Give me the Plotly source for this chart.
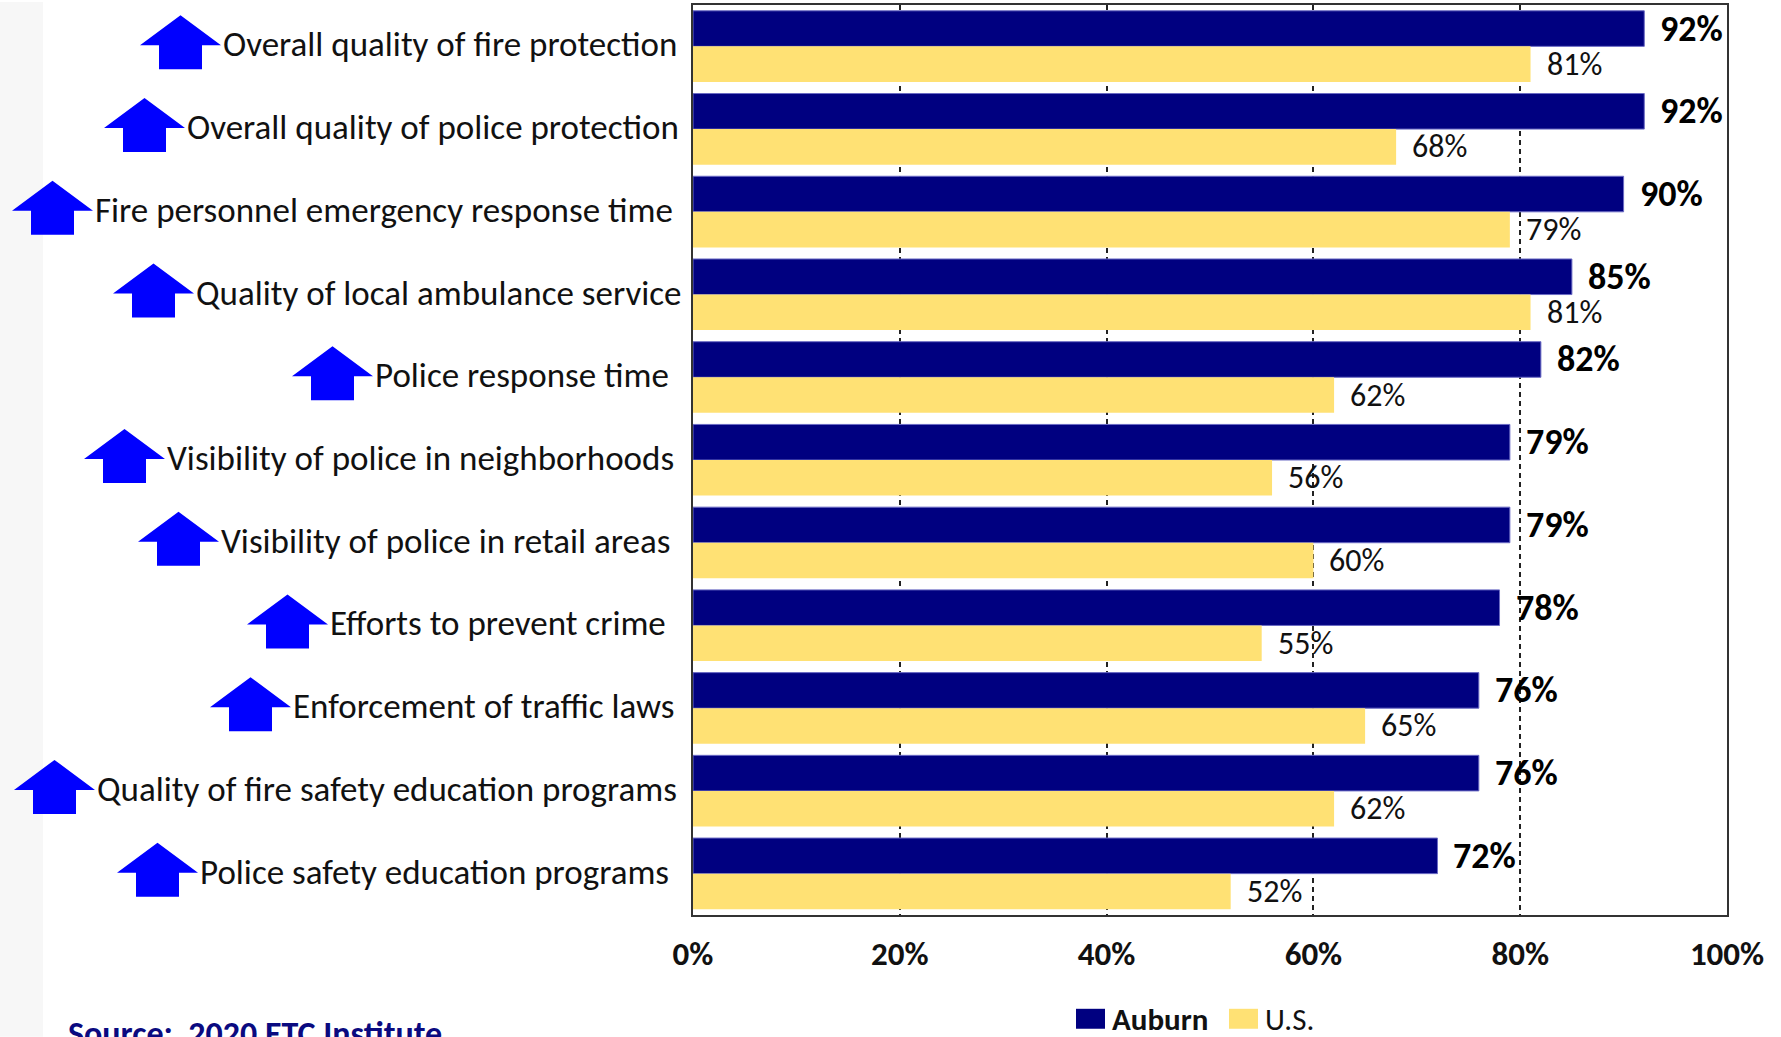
import plotly.graph_objects as go

# ---- data -------------------------------------------------------------
categories = [
    "Overall quality of fire protection",
    "Overall quality of police protection",
    "Fire personnel emergency response time",
    "Quality of local ambulance service",
    "Police response time",
    "Visibility of police in neighborhoods",
    "Visibility of police in retail areas",
    "Efforts to prevent crime",
    "Enforcement of traffic laws",
    "Quality of fire safety education programs",
    "Police safety education programs",
]
auburn = [92, 92, 90, 85, 82, 79, 79, 78, 76, 76, 72]
us = [81, 68, 79, 81, 62, 56, 60, 55, 65, 62, 52]
tick_values = [0, 20, 40, 60, 80, 100]
tick_labels = ["0%", "20%", "40%", "60%", "80%", "100%"]
series_names = ["Auburn", "U.S."]
source_note = "Source:  2020 ETC Institute"

# ---- layout constants --------------------------------------------------
W, H = 1781, 1037
ML, MR, MT, MB = 693, 54, 3, 122
PW, PH = W - ML - MR, H - MT - MB
NAVY = "#000080"
YELLOW = "#FFE174"
ARROW = "#0000FF"
FONT = "Carlito, Lato, 'Open Sans', sans-serif"
BARGAP = 0.14
half = (1 - BARGAP) / 4  # centre offset of each bar inside its band

# left edge (px) where each category caption begins
label_left_px = [221, 185, 93, 194, 373, 165, 219, 328, 291, 95, 198]


def px_x(px):
    return (px - ML) / PW


def px_y(py):
    return (H - MB - py) / PH


rows = list(range(len(categories)))

fig = go.Figure()
fig.add_trace(go.Bar(
    y=rows, x=auburn, orientation="h", name=series_names[0],
    marker=dict(color=NAVY, line=dict(color="#6a6ac4", width=1)),
))
fig.add_trace(go.Bar(
    y=rows, x=us, orientation="h", name=series_names[1],
    marker=dict(color=YELLOW, line=dict(width=0)),
))

annotations = []
shapes = []

# value labels
for i, (a, u) in enumerate(zip(auburn, us)):
    annotations.append(dict(
        x=a, y=i - half, xref="x", yref="y", text=f"{a}%", showarrow=False,
        xanchor="left", yanchor="middle", xshift=14,
        font=dict(family=FONT, size=36, color="#000000", weight="bold"),
    ))
    annotations.append(dict(
        x=u, y=i + half, xref="x", yref="y", text=f"{u}%", showarrow=False,
        xanchor="left", yanchor="middle", xshift=14,
        font=dict(family=FONT, size=32, color="#111111"),
    ))

# category captions with blue up-arrows
for i, (name, lx) in enumerate(zip(categories, label_left_px)):
    annotations.append(dict(
        x=px_x(lx), y=i, xref="paper", yref="y", text=name, showarrow=False,
        xanchor="left", yanchor="middle", yshift=2,
        font=dict(family=FONT, size=35, color="#111111"),
    ))
    shapes.append(dict(
        type="path", xref="paper", yref="y",
        xsizemode="pixel", ysizemode="pixel",
        xanchor=px_x(lx), yanchor=i,
        path="M -81 1 L -40.5 31 L 0 1 L -19 1 L -19 -23 L -62 -23 L -62 1 Z",
        fillcolor=ARROW, line=dict(width=0), layer="above",
    ))

# faint textured strip at the far left
shapes.append(dict(type="rect", xref="paper", yref="paper",
                   x0=px_x(0), x1=px_x(43), y0=px_y(H), y1=px_y(0),
                   fillcolor="#f7f7f7", line=dict(width=0), layer="below"))

# legend
legend_items = [(NAVY, series_names[0], 1076, 1105, "bold"),
                (YELLOW, series_names[1], 1229, 1258, "normal")]
for color, label, x0, x1, weight in legend_items:
    shapes.append(dict(type="rect", xref="paper", yref="paper",
                       x0=px_x(x0), x1=px_x(x1), y0=px_y(1029), y1=px_y(1009),
                       fillcolor=color, line=dict(width=0)))
    annotations.append(dict(
        x=px_x(x1 + 5), y=px_y(1019), xref="paper", yref="paper", text=label,
        showarrow=False, xanchor="left", yanchor="middle",
        font=dict(family=FONT, size=31, color="#111111", weight=weight),
    ))

# source note (runs off the bottom edge)
annotations.append(dict(
    x=px_x(66), y=px_y(1011), xref="paper", yref="paper", text=source_note,
    showarrow=False, xanchor="left", yanchor="top",
    font=dict(family=FONT, size=34, color="#0a0a80", weight="bold"),
))

fig.update_layout(
    width=W, height=H,
    margin=dict(l=ML, r=MR, t=MT, b=MB, pad=0),
    paper_bgcolor="white", plot_bgcolor="white",
    barmode="group", bargap=BARGAP, bargroupgap=0,
    showlegend=False,
    annotations=annotations, shapes=shapes,
    xaxis=dict(
        range=[0, 100], tickvals=tick_values, ticktext=tick_labels,
        showgrid=True, gridcolor="#222222", gridwidth=1.5, griddash="5px,4px",
        zeroline=False, showline=True, linecolor="#333333", linewidth=2,
        mirror=True, ticks="", ticklabelstandoff=8,
        tickfont=dict(family=FONT, size=33, color="#111111", weight="bold"),
    ),
    yaxis=dict(
        range=[len(categories) - 0.5, -0.5], showticklabels=False,
        showgrid=False, zeroline=False, showline=True, linecolor="#333333",
        linewidth=2, mirror=True, ticks="",
    ),
)

fig.write_html("out.html")
